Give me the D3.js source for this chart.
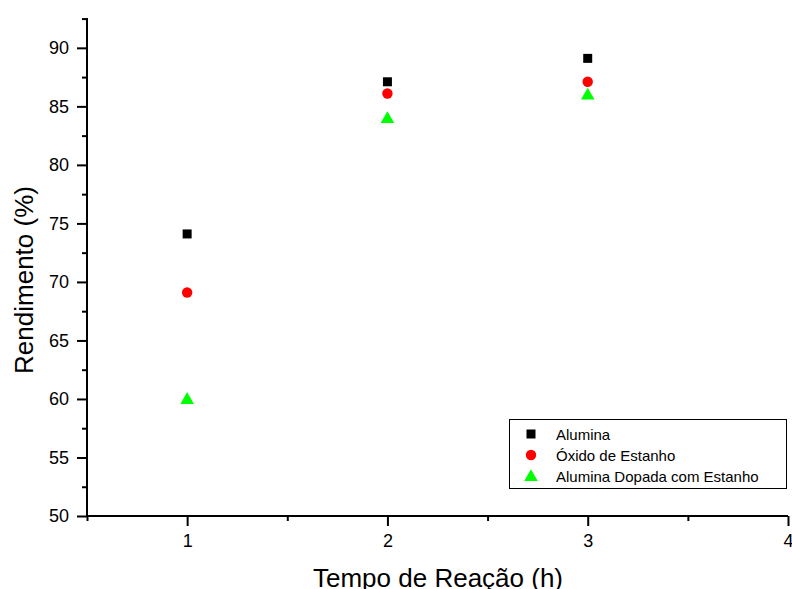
<!DOCTYPE html>
<html>
<head>
<meta charset="utf-8">
<script src="https://cdn.jsdelivr.net/npm/d3@7"></script>
<style>
  body { margin: 0; background: #fff; }
  text { font-family: "Liberation Sans", Arial, sans-serif; }
</style>
</head>
<body>
<svg id="chart" width="792" height="589"></svg>
<script>
// data
var times = [1, 2, 3];
var alumina = [74.1, 87.1, 89.1];
var oxido = [69.1, 86.1, 87.1];
var dopada = [60, 84, 86];
var seriesNames = ['Alumina', 'Óxido de Estanho', 'Alumina Dopada com Estanho'];
var xTicks = [1, 2, 3, 4];
var xMinor = [0.5, 1.5, 2.5, 3.5];
var yTicks = [50, 55, 60, 65, 70, 75, 80, 85, 90];
var yMinor = [52.5, 57.5, 62.5, 67.5, 72.5, 77.5, 82.5, 87.5, 92.5];

var svg = d3.select('#chart');
var mLeft = 87, mRight = 788, mTop = 18, mBottom = 516;

var x = d3.scaleLinear().domain([0.5, 4]).range([mLeft, mRight]);
var y = d3.scaleLinear().domain([50, 92.55]).range([mBottom, mTop]);

// x axis with major and minor ticks
var xAxis = svg.append('g').attr('transform', 'translate(0,' + mBottom + ')');
xAxis.call(d3.axisBottom(x).tickValues(xTicks).tickSize(10).tickPadding(8).tickFormat(d3.format('d')));
xAxis.append('g').call(d3.axisBottom(x).tickValues(xMinor).tickSize(5).tickFormat(''));

var yAxis = svg.append('g').attr('transform', 'translate(' + mLeft + ',0)');
yAxis.call(d3.axisLeft(y).tickValues(yTicks).tickSize(10).tickPadding(8).tickFormat(d3.format('d')));
yAxis.append('g').call(d3.axisLeft(y).tickValues(yMinor).tickSize(5).tickFormat(''));

svg.selectAll('.tick line').attr('stroke-width', 2);
svg.selectAll('.tick text').style('font-size', '18px').style('font-family', '"Liberation Sans", Arial, sans-serif').attr('fill', '#000');

// redraw clean axis lines (no end caps)
svg.selectAll('.domain').remove();
svg.append('line').attr('x1', mLeft).attr('x2', mLeft).attr('y1', mTop).attr('y2', mBottom + 1)
  .attr('stroke', '#000').attr('stroke-width', 2);
svg.append('line').attr('x1', mLeft - 1).attr('x2', mRight).attr('y1', mBottom).attr('y2', mBottom)
  .attr('stroke', '#000').attr('stroke-width', 2);

// axis titles
svg.append('text').attr('x', 438).attr('y', 587).attr('text-anchor', 'middle')
  .style('font-size', '26px').text('Tempo de Reação (h)');
svg.append('text').attr('transform', 'translate(33,280)rotate(-90)')
  .attr('text-anchor', 'middle').style('font-size', '26px').text('Rendimento (%)');

// markers
var sq = d3.symbol().type(d3.symbolSquare).size(81);
var ci = d3.symbol().type(d3.symbolCircle).size(85);
var tr = d3.symbol().type(d3.symbolTriangle).size(80);

var series = [
  {vals: alumina, sym: sq, color: '#000000', dy: 0},
  {vals: oxido, sym: ci, color: '#ff0000', dy: 0},
  {vals: dopada, sym: tr, color: '#00ff00', dy: 1}
];

series.forEach(function(s) {
  svg.append('g').selectAll('path')
    .data(s.vals)
    .enter().append('path')
    .attr('d', s.sym)
    .attr('fill', s.color)
    .attr('transform', function(d, i) { return 'translate(' + x(times[i]) + ',' + (y(d) + s.dy) + ')'; });
});

// legend
var legend = svg.append('g').attr('transform', 'translate(509.5,419.5)');
legend.append('rect').attr('width', 277).attr('height', 69)
  .attr('fill', '#fff').attr('stroke', '#000').attr('stroke-width', 1);
seriesNames.forEach(function(name, i) {
  var ly = 14.5 + i * 21;
  legend.append('path').attr('d', series[i].sym).attr('fill', series[i].color)
    .attr('transform', 'translate(21.5,' + (ly + series[i].dy) + ')');
  legend.append('text').attr('x', 46.5).attr('y', ly + 5.5).style('font-size', '15px').text(name);
});
</script>
</body>
</html>
